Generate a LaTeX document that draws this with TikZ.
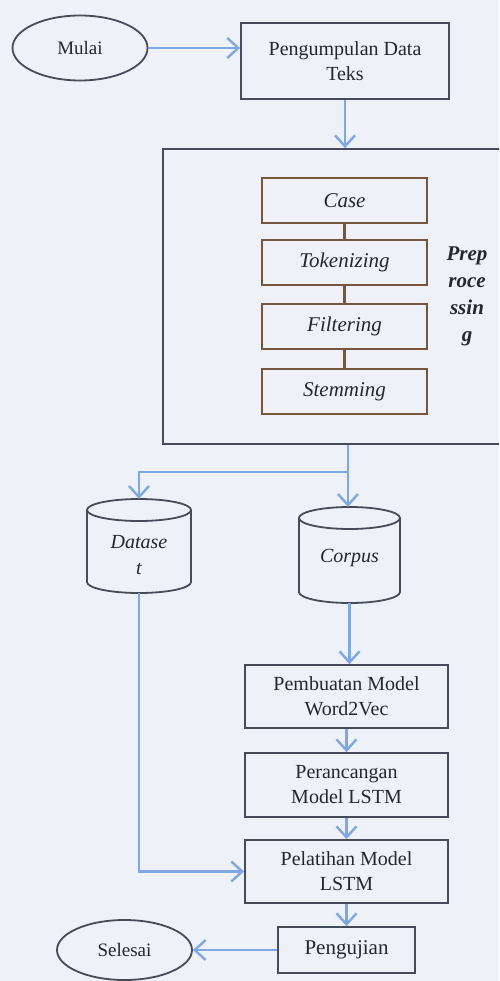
\documentclass[tikz,border=0pt]{standalone}
\usepackage{fontspec}
\setmainfont{Liberation Serif}
\usetikzlibrary{shapes.geometric,arrows.meta,calc}
\definecolor{paper}{HTML}{EEF1F7}
\definecolor{flow}{HTML}{7FA8E2}
\definecolor{frame}{HTML}{454B59}
\definecolor{stepline}{HTML}{76553F}
\definecolor{ink}{HTML}{25272C}

\begin{document}
\begin{tikzpicture}[x=1pt,y=-1pt,
  box/.style={draw=frame, line width=1.8pt, rectangle, inner sep=1pt, align=center,
              text=ink, font=\fontsize{20}{25}\selectfont},
  term/.style={draw=frame, line width=1.8pt, ellipse, inner sep=0pt, text=ink,
               font=\fontsize{19}{23}\selectfont},
  stage/.style={draw=stepline, line width=2pt, minimum width=165pt, minimum height=45pt,
                inner sep=0pt, text=ink, font=\fontsize{21}{25}\selectfont\itshape},
  store/.style={inner sep=0pt},
  storetext/.style={align=center, text=ink, font=\fontsize{20}{26}\selectfont\itshape},
  cyl/.style={draw=frame, line width=1.8pt},
  flowarrow/.style={draw=flow, line width=2.4pt, -{Straight Barb[length=11pt,width=20pt]}},
  link/.style={draw=stepline, line width=2.4pt}]

% page and paper
\useasboundingbox (0,0) rectangle (499,981);
\clip (0,0) rectangle (499,981);
\fill[paper] (0,0) rectangle (499,981);

% start / data collection
\node[term, minimum width=135pt, minimum height=65pt] (mulai) at (80,48) {Mulai};
\node[box, minimum width=208pt, minimum height=76pt] (kumpul) at (345,61)
  {Pengumpulan Data\\Teks};

% preprocessing frame with its four stages
\node[draw=frame, line width=1.8pt, minimum width=357pt, minimum height=295pt,
      inner sep=0pt] (pre) at (341.5,296.5) {};
\node[stage] (case) at (344.5,200.5) {Case};
\node[stage] (token) at (344.5,262.5) {Tokenizing};
\node[stage] (filter) at (344.5,326.5) {Filtering};
\node[stage] (stem) at (344.5,391.5) {Stemming};
\node[align=center, text=ink, font=\fontsize{21}{27}\selectfont\bfseries\itshape]
  (prep) at (467,296) {Prep\\roce\\ssin\\g};

\draw[link] (case.south) -- (token.north);
\draw[link] (token.south) -- (filter.north);
\draw[link] (filter.south) -- (stem.north);

% data stores
\node[store, minimum width=104pt, minimum height=94pt,
      label={[storetext, yshift=-9pt]center:{Datase\\t}}] (dataset) at (139,546) {};
\draw[cyl] ($(dataset.center)+(0,-36)$) ellipse [x radius=52pt, y radius=11pt];
\draw[cyl] ($(dataset.center)+(-52,-36)$) -- ($(dataset.center)+(-52,36)$)
  arc[start angle=180, end angle=360, x radius=52pt, y radius=11pt]
  -- ($(dataset.center)+(52,-36)$);

\node[store, minimum width=101pt, minimum height=96pt,
      label={[storetext, yshift=-3pt]center:{Corpus}}] (corpus) at (349.5,555) {};
\draw[cyl] ($(corpus.center)+(0,-37)$) ellipse [x radius=50.5pt, y radius=11pt];
\draw[cyl] ($(corpus.center)+(-50.5,-37)$) -- ($(corpus.center)+(-50.5,37)$)
  arc[start angle=180, end angle=360, x radius=50.5pt, y radius=11pt]
  -- ($(corpus.center)+(50.5,-37)$);

% modelling steps
\node[box, minimum width=203pt, minimum height=63pt] (buat) at (346.5,696.5)
  {Pembuatan Model\\Word2Vec};
\node[box, minimum width=203pt, minimum height=64pt] (rancang) at (346.5,785)
  {Perancangan\\Model LSTM};
\node[box, minimum width=203pt, minimum height=63pt] (latih) at (346.5,871.5)
  {Pelatihan Model\\LSTM};
\node[box, minimum width=137pt, minimum height=46pt, font=\fontsize{21}{25}\selectfont]
  (uji) at (346.5,950) {Pengujian};
\node[term, minimum width=135pt, minimum height=60pt] (selesai) at (124.5,950) {Selesai};

% flow
\coordinate (split) at (348,472);
\draw[flowarrow] (mulai.east) -- (mulai.east -| kumpul.west);
\draw[flowarrow] (kumpul.south) -- (kumpul.south |- pre.north);
\draw[draw=flow, line width=2.4pt] (split |- pre.south) -- (split);
\draw[flowarrow] (split) -| (dataset.north);
\draw[flowarrow] (split) -- (split |- corpus.north);
\draw[flowarrow] (corpus.south) -- (corpus.south |- buat.north);
\draw[flowarrow] (buat.south) -- (rancang.north);
\draw[flowarrow] (rancang.south) -- (latih.north);
\draw[flowarrow] (latih.south) -- (uji.north);
\draw[flowarrow] (dataset.south) |- (latih.west);
\draw[flowarrow] (uji.west) -- (selesai.east);
\end{tikzpicture}
\end{document}
